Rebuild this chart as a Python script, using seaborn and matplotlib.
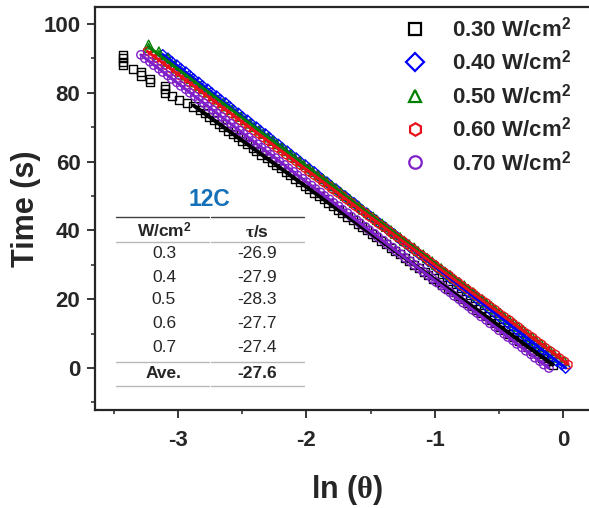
import numpy as np
import pandas as pd
import matplotlib
matplotlib.use("Agg")
import matplotlib.pyplot as plt
import seaborn as sns
from matplotlib.lines import Line2D
from matplotlib.ticker import MultipleLocator

# ---------------- data ----------------
TIME = [0, 1, 2, 3, 4, 5, 6, 7, 8, 9, 10, 11, 12, 13, 14, 15, 16, 17, 18, 19,
        20, 21, 22, 23, 24, 25, 26, 27, 28, 29, 30, 31, 32, 33, 34, 35, 36, 37, 38, 39,
        40, 41, 42, 43, 44, 45, 46, 47, 48, 49, 50, 51, 52, 53, 54, 55, 56, 57, 58, 59,
        60, 61, 62, 63, 64, 65, 66, 67, 68, 69, 70, 71, 72, 73, 74, 75, 76, 77, 78, 79,
        80, 81, 82, 83, 84, 85, 86, 87, 88, 89, 90, 91, 92, 93, 94]

# ln(theta) for 0.30 W/cm2, times 1..91
LN_030 = [-0.08, -0.12, -0.16, -0.19, -0.23, -0.27, -0.30, -0.34, -0.38, -0.42,
          -0.45, -0.49, -0.53, -0.56, -0.60, -0.64, -0.68, -0.71, -0.75, -0.79,
          -0.82, -0.86, -0.90, -0.94, -0.97, -1.01, -1.05, -1.08, -1.12, -1.16,
          -1.20, -1.23, -1.27, -1.31, -1.34, -1.38, -1.42, -1.46, -1.49, -1.53,
          -1.57, -1.60, -1.64, -1.68, -1.72, -1.75, -1.79, -1.83, -1.86, -1.90,
          -1.94, -1.98, -2.01, -2.05, -2.09, -2.13, -2.16, -2.20, -2.24, -2.27,
          -2.31, -2.35, -2.39, -2.42, -2.46, -2.50, -2.53, -2.57, -2.61, -2.65,
          -2.68, -2.72, -2.76, -2.79, -2.83, -2.88, -2.93, -2.99, -3.05, -3.10,
          -3.10, -3.10, -3.22, -3.22, -3.29, -3.29, -3.35, -3.43, -3.43, -3.43,
          -3.43]
# 0.40 W/cm2, times 0..91
LN_040 = [0.02, -0.01, -0.05, -0.08, -0.12, -0.15, -0.19, -0.22, -0.26, -0.29,
          -0.32, -0.36, -0.39, -0.43, -0.46, -0.50, -0.53, -0.57, -0.60, -0.63,
          -0.67, -0.70, -0.74, -0.77, -0.81, -0.84, -0.88, -0.91, -0.94, -0.98,
          -1.01, -1.05, -1.08, -1.12, -1.15, -1.19, -1.22, -1.26, -1.29, -1.32,
          -1.36, -1.39, -1.43, -1.46, -1.50, -1.53, -1.57, -1.60, -1.63, -1.67,
          -1.70, -1.74, -1.77, -1.81, -1.84, -1.88, -1.91, -1.94, -1.98, -2.01,
          -2.05, -2.08, -2.12, -2.15, -2.19, -2.22, -2.26, -2.29, -2.32, -2.36,
          -2.39, -2.43, -2.46, -2.50, -2.53, -2.57, -2.60, -2.63, -2.67, -2.70,
          -2.74, -2.77, -2.81, -2.84, -2.88, -2.91, -2.94, -2.98, -3.01, -3.05,
          -3.08, -3.12]
# 0.50 W/cm2, times 2..94
LN_050 = [0.01, -0.03, -0.07, -0.10, -0.14, -0.17, -0.21, -0.24, -0.28, -0.31,
          -0.35, -0.38, -0.42, -0.46, -0.49, -0.53, -0.56, -0.60, -0.63, -0.67,
          -0.70, -0.74, -0.77, -0.81, -0.85, -0.88, -0.92, -0.95, -0.99, -1.02,
          -1.06, -1.09, -1.13, -1.16, -1.20, -1.24, -1.27, -1.31, -1.34, -1.38,
          -1.41, -1.45, -1.48, -1.52, -1.56, -1.59, -1.63, -1.66, -1.70, -1.73,
          -1.77, -1.80, -1.84, -1.87, -1.91, -1.95, -1.98, -2.02, -2.05, -2.09,
          -2.12, -2.16, -2.19, -2.23, -2.26, -2.30, -2.34, -2.37, -2.41, -2.44,
          -2.48, -2.51, -2.55, -2.58, -2.62, -2.65, -2.69, -2.73, -2.76, -2.80,
          -2.83, -2.87, -2.90, -2.94, -2.97, -3.01, -3.03, -3.08, -3.08, -3.15,
          -3.15, -3.23, -3.23]
# 0.60 W/cm2, times 1..92
LN_060 = [0.04, 0.01, -0.03, -0.06, -0.10, -0.14, -0.17, -0.21, -0.24, -0.28,
          -0.32, -0.35, -0.39, -0.42, -0.46, -0.50, -0.53, -0.57, -0.60, -0.64,
          -0.68, -0.71, -0.75, -0.79, -0.82, -0.86, -0.89, -0.93, -0.97, -1.00,
          -1.04, -1.07, -1.11, -1.15, -1.18, -1.22, -1.25, -1.29, -1.33, -1.36,
          -1.40, -1.44, -1.47, -1.51, -1.54, -1.58, -1.62, -1.65, -1.69, -1.72,
          -1.76, -1.80, -1.83, -1.87, -1.90, -1.94, -1.98, -2.01, -2.05, -2.08,
          -2.12, -2.16, -2.19, -2.23, -2.27, -2.30, -2.34, -2.37, -2.41, -2.45,
          -2.48, -2.52, -2.55, -2.59, -2.63, -2.66, -2.70, -2.73, -2.77, -2.81,
          -2.84, -2.88, -2.92, -2.95, -2.99, -3.02, -3.06, -3.10, -3.13, -3.17,
          -3.20, -3.24]
# 0.70 W/cm2, times 0..91
LN_070 = [-0.11, -0.15, -0.18, -0.22, -0.25, -0.29, -0.32, -0.36, -0.39, -0.43,
          -0.46, -0.50, -0.53, -0.57, -0.60, -0.64, -0.67, -0.71, -0.74, -0.78,
          -0.81, -0.85, -0.88, -0.92, -0.95, -0.99, -1.02, -1.05, -1.09, -1.12,
          -1.16, -1.19, -1.23, -1.26, -1.30, -1.33, -1.37, -1.40, -1.44, -1.47,
          -1.51, -1.54, -1.58, -1.61, -1.65, -1.68, -1.72, -1.75, -1.79, -1.82,
          -1.86, -1.89, -1.93, -1.96, -2.00, -2.03, -2.07, -2.10, -2.14, -2.17,
          -2.21, -2.24, -2.28, -2.31, -2.35, -2.38, -2.42, -2.45, -2.49, -2.52,
          -2.56, -2.59, -2.63, -2.66, -2.70, -2.73, -2.77, -2.80, -2.84, -2.87,
          -2.91, -2.94, -2.98, -3.01, -3.05, -3.08, -3.12, -3.15, -3.19, -3.22,
          -3.26, -3.29]

POWERS = ["0.30", "0.40", "0.50", "0.60", "0.70"]
LN_DATA = [LN_030, LN_040, LN_050, LN_060, LN_070]
TIMES = [TIME[1:92], TIME[0:92], TIME[2:95], TIME[1:93], TIME[0:92]]
FIT_TMAX = [76, 94, 94, 94, 94]   # fit range (black fit excludes the curved tail)

# table values
TAB_POWER = ["0.3", "0.4", "0.5", "0.6", "0.7"]
TAB_TAU = ["-26.9", "-27.9", "-28.3", "-27.7", "-27.4"]
TAB_AVE = "-27.6"

MARKERS = ["s", "D", "^", "h", "o"]
COLORS = ["#000000", "#0000FF", "#008000", "#E8101A", "#8020C8"]
MSIZE = [34, 28, 40, 40, 36]

# ---------------- style ----------------
sns.set_style("ticks")
plt.rcParams.update({
    "font.family": ["Liberation Sans", "DejaVu Sans"],
    "font.weight": "bold",
    "axes.unicode_minus": False,
    "mathtext.fontset": "custom",
    "mathtext.rm": "Liberation Serif",
    "mathtext.it": "Liberation Serif",
    "mathtext.bf": "Liberation Sans:bold",
})

W, H = 589, 508
fig = plt.figure(figsize=(W / 100, H / 100), dpi=100)
L, R, T, B = 95, 600, 7, 410
ax = fig.add_axes([L / W, 1 - B / H, (R - L) / W, (B - T) / H])

for ln, t, m, c, s in zip(LN_DATA, TIMES, MARKERS, COLORS, MSIZE):
    df = pd.DataFrame({"ln": ln, "t": t})
    sns.scatterplot(data=df, x="ln", y="t", marker=m, s=s, color=c,
                    facecolor="none", edgecolor=c, linewidth=1.0, ax=ax,
                    legend=False, zorder=2)

for ln, t, c, tmax in zip(LN_DATA, TIMES, COLORS, FIT_TMAX):
    df = pd.DataFrame({"ln": ln, "t": t})
    df = df[df["t"] <= tmax]
    lw = 2.8 if c == "#000000" else 2.2
    sns.regplot(data=df, x="ln", y="t", scatter=False, ci=None, truncate=True,
                color=c, line_kws={"lw": lw, "zorder": 3}, ax=ax)

ax.set_xlim(-3.648, 0.288)
ax.set_ylim(-12.2, 104.9)
ax.xaxis.set_major_locator(MultipleLocator(1))
ax.xaxis.set_minor_locator(MultipleLocator(0.5))
ax.yaxis.set_major_locator(MultipleLocator(20))
ax.yaxis.set_minor_locator(MultipleLocator(10))
ax.tick_params(which="major", direction="out", length=5.5, width=1.3,
               labelsize=16)
ax.tick_params(axis="x", which="major", pad=9)
ax.tick_params(axis="y", which="major", pad=5)
ax.tick_params(which="minor", direction="out", length=3, width=1.1)
for lab in ax.get_xticklabels() + ax.get_yticklabels():
    lab.set_fontweight("bold")
for sp in ax.spines.values():
    sp.set_linewidth(1.6)

ax.set_xlabel(r"ln ($\theta$)", fontsize=22, fontweight="bold", labelpad=16)
ax.set_ylabel("Time (s)", fontsize=22, fontweight="bold", labelpad=2)

# legend
handles = [Line2D([], [], ls="none", marker=m, ms=9, mfc="none", mec=c, mew=1.6)
           for m, c in zip(MARKERS, COLORS)]
labels = [p + r" W/cm$^{\mathbf{2}}$" for p in POWERS]
ax.legend(handles, labels, loc="upper left", bbox_to_anchor=(404 / W, 1 - 17 / H),
          bbox_transform=fig.transFigure, frameon=False, fontsize=16,
          handlelength=1.0, handletextpad=1.15, labelspacing=0.40,
          borderpad=0, borderaxespad=0)

# inset table
def fx(x):
    return x / W

def fy(y):
    return 1 - y / H

fig.text(fx(209), fy(199), "12C", color="#1470B8", fontsize=16.5,
         fontweight="bold", ha="center", va="center")
for y, col, lw in [(217, "#404040", 1.0), (242, "#b8b8b8", 1.0),
                   (362, "#b8b8b8", 1.0), (386, "#b8b8b8", 1.0)]:
    for x0, x1 in [(116, 209), (211, 304)]:
        fig.add_artist(Line2D([fx(x0), fx(x1)], [fy(y), fy(y)], color=col, lw=lw,
                              transform=fig.transFigure))
C1, C2 = 164, 257
fig.text(fx(C1), fy(231), r"W/cm$^{\mathbf{2}}$", fontsize=12.5, fontweight="bold",
         ha="center", va="center")
fig.text(fx(C2), fy(232), r"$\tau$/s", fontsize=12.5, fontweight="bold",
         ha="center", va="center")
ROW_Y = [253, 277, 300, 324, 348]
for y, p, tau in zip(ROW_Y, TAB_POWER, TAB_TAU):
    fig.text(fx(C1), fy(y), p, fontsize=12.5, fontweight="normal", ha="center", va="center")
    fig.text(fx(C2), fy(y), tau, fontsize=12.5, fontweight="normal", ha="center", va="center")
fig.text(fx(C1), fy(373), "Ave.", fontsize=12.5, fontweight="bold", ha="center", va="center")
fig.text(fx(C2), fy(373), TAB_AVE, fontsize=12.5, fontweight="bold", ha="center", va="center")

fig.savefig("out.png", dpi=100)
